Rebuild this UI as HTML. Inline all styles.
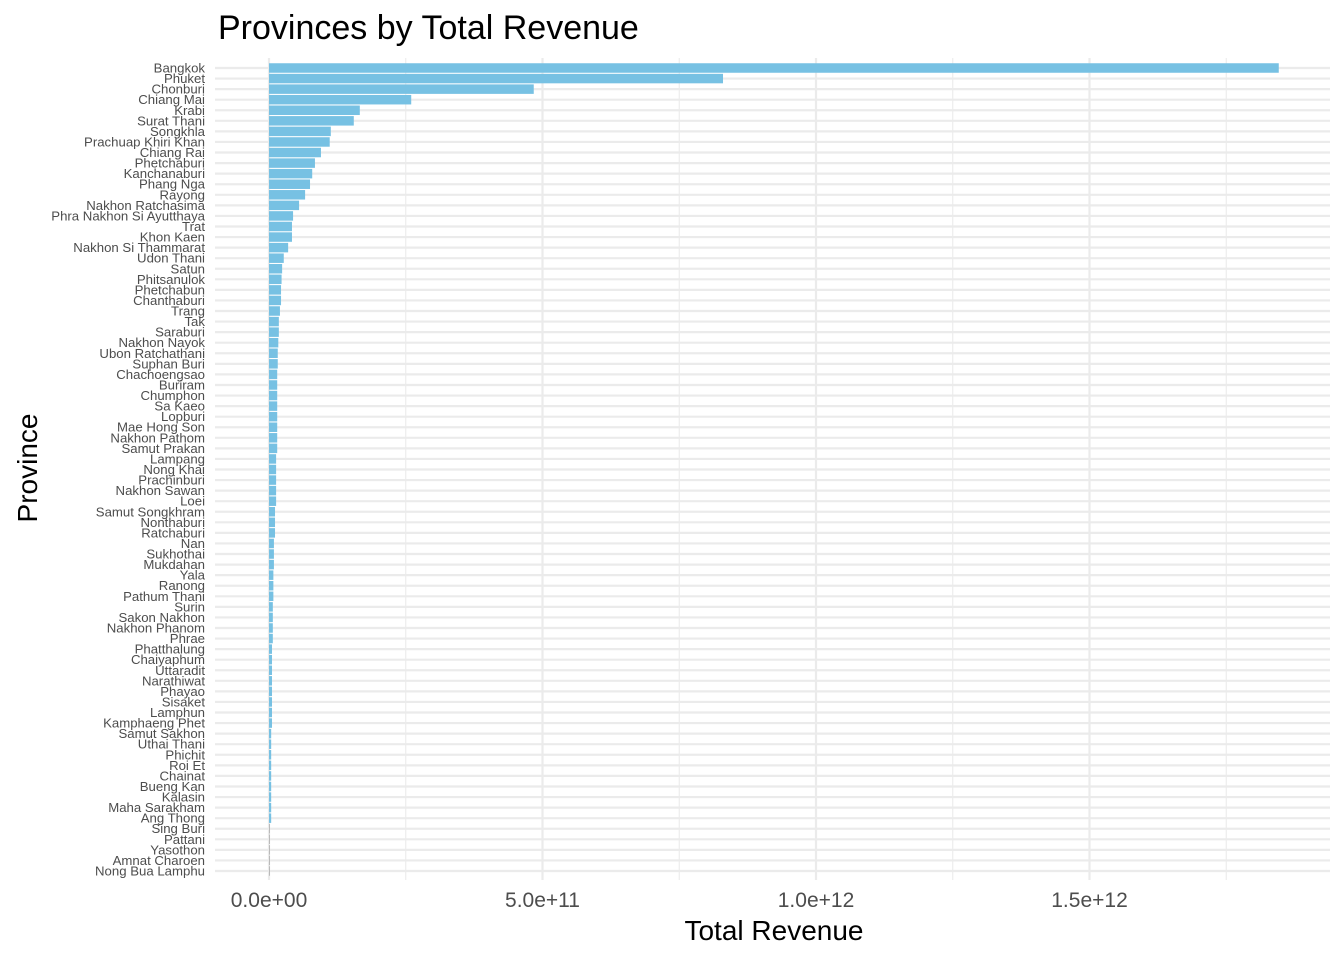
<!DOCTYPE html>
<html><head><meta charset="utf-8"><style>
body{margin:0;background:#fff;}
svg{display:block;font-family:"Liberation Sans",Arial,sans-serif;}
</style></head><body>
<svg id="chart" width="1344" height="960">
<text x="218" y="39" font-size="34" fill="#000">Provinces by Total Revenue</text>
<g id="grid"></g><g id="bars"></g><g id="ylabels"></g><g id="xticks"></g>
<text x="774" y="940" font-size="28" text-anchor="middle" fill="#000">Total Revenue</text>
<text x="0" y="0" font-size="28" text-anchor="middle" fill="#000" transform="translate(37,468) rotate(-90)">Province</text>
</svg>
<script>
const provinces=["Bangkok","Phuket","Chonburi","Chiang Mai","Krabi","Surat Thani","Songkhla","Prachuap Khiri Khan","Chiang Rai","Phetchaburi","Kanchanaburi","Phang Nga","Rayong","Nakhon Ratchasima","Phra Nakhon Si Ayutthaya","Trat","Khon Kaen","Nakhon Si Thammarat","Udon Thani","Satun","Phitsanulok","Phetchabun","Chanthaburi","Trang","Tak","Saraburi","Nakhon Nayok","Ubon Ratchathani","Suphan Buri","Chachoengsao","Buriram","Chumphon","Sa Kaeo","Lopburi","Mae Hong Son","Nakhon Pathom","Samut Prakan","Lampang","Nong Khai","Prachinburi","Nakhon Sawan","Loei","Samut Songkhram","Nonthaburi","Ratchaburi","Nan","Sukhothai","Mukdahan","Yala","Ranong","Pathum Thani","Surin","Sakon Nakhon","Nakhon Phanom","Phrae","Phatthalung","Chaiyaphum","Uttaradit","Narathiwat","Phayao","Sisaket","Lamphun","Kamphaeng Phet","Samut Sakhon","Uthai Thani","Phichit","Roi Et","Chainat","Bueng Kan","Kalasin","Maha Sarakham","Ang Thong","Sing Buri","Pattani","Yasothon","Amnat Charoen","Nong Bua Lamphu"];
const revenue=[1.846e12,0.830e12,0.484e12,0.260e12,0.166e12,0.155e12,0.113e12,0.111e12,0.095e12,0.084e12,0.079e12,0.075e12,0.066e12,0.055e12,0.044e12,0.042e12,0.042e12,0.035e12,0.027e12,0.024e12,0.023e12,0.022e12,0.022e12,0.020e12,0.018e12,0.018e12,0.017e12,0.016e12,0.016e12,0.015e12,0.015e12,0.015e12,0.015e12,0.015e12,0.015e12,0.015e12,0.015e12,0.013e12,0.013e12,0.013e12,0.013e12,0.013e12,0.011e12,0.011e12,0.011e12,0.009e12,0.009e12,0.009e12,0.008e12,0.008e12,0.008e12,0.007e12,0.007e12,0.007e12,0.007e12,0.0055e12,0.0055e12,0.0055e12,0.0055e12,0.0055e12,0.0055e12,0.0055e12,0.0055e12,0.004e12,0.004e12,0.004e12,0.004e12,0.004e12,0.004e12,0.004e12,0.004e12,0.004e12,0.0005e12,0.0005e12,0.0005e12,0.0005e12,0.0005e12];
const tickValues=[0,5e11,1e12,1.5e12];
const tickLabels=["0.0e+00","5.0e+11","1.0e+12","1.5e+12"];
(function(){
const NS="http://www.w3.org/2000/svg";
const x0=269,pxPer=547/1e12,plotLeft=215,plotRight=1330,rowTop=68,step=(871-68)/(provinces.length-1);
const xs=v=>x0+v*pxPer;
const ys=i=>rowTop+i*step;
function mk(tag,attrs,parent){const e=document.createElementNS(NS,tag);for(const k in attrs)e.setAttribute(k,attrs[k]);document.getElementById(parent).appendChild(e);return e;}
for(let i=0;i<tickValues.length;i++){
  const v=tickValues[i];
  const l=mk('line',{x1:xs(v),x2:xs(v),y1:58,y2:880,stroke:'#ebebeb','stroke-width':2.2},'grid');
  
  
  const mx=xs(v+2.5e11);
  if(mx<plotRight){const n=mk('line',{x1:mx,x2:mx,y1:58,y2:880,stroke:'#ebebeb','stroke-width':1.1},'grid');
  
  }
  const t=mk('text',{x:xs(v),y:907,'font-size':21,'text-anchor':'middle',fill:'#4d4d4d'},'xticks');
  t.textContent=tickLabels[i];
  
  
}
provinces.forEach((p,i)=>{
  const y=ys(i);
  const g=mk('line',{x1:plotLeft,x2:plotRight,y1:y,y2:y,stroke:'#ebebeb','stroke-width':2.2},'grid');
  
  
  const w=Math.max(xs(revenue[i])-x0,0.6);
  const b=mk('rect',{x:x0,y:y-4.75,width:w,height:9.5,fill:w<1?'#999':'#77c1e3'},'bars');
  
  
  const t=mk('text',{x:205,y:y+4.5,'font-size':13.2,'text-anchor':'end',fill:'#4d4d4d'},'ylabels');
  t.textContent=p;
  
  
});
})();
</script>
</body></html>
